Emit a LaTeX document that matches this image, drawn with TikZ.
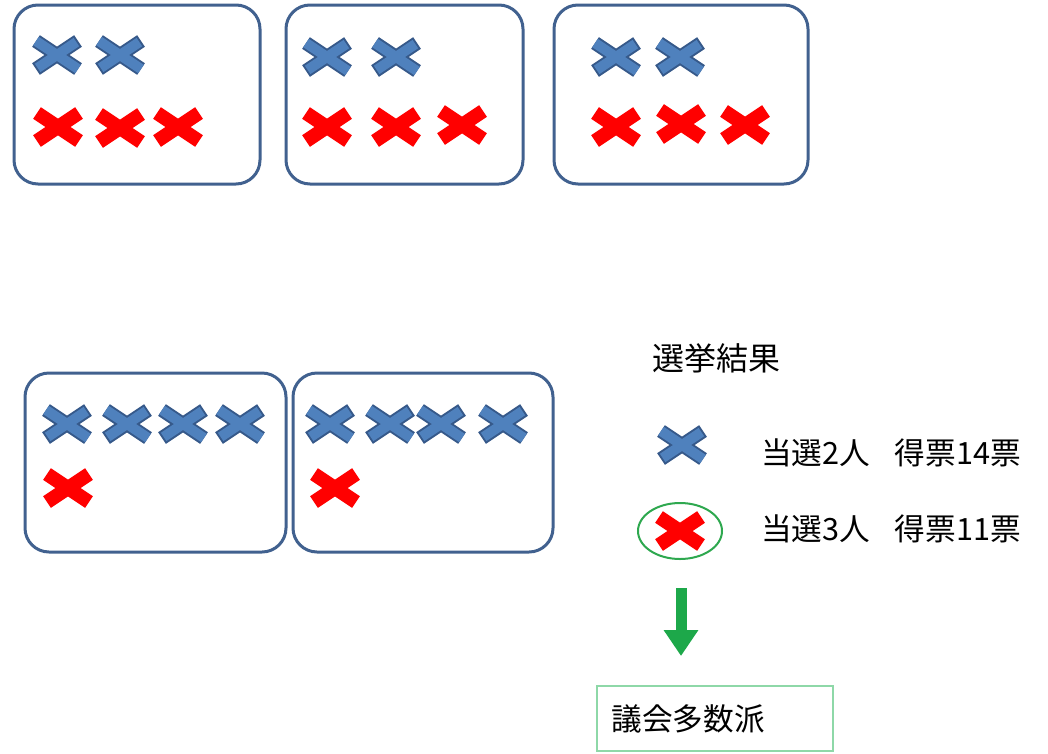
\documentclass[tikz,border=0pt]{standalone}
\usepackage{fontspec}
\setmainfont{Noto Sans CJK JP}
\usetikzlibrary{positioning}
\usetikzlibrary{arrows.meta}
\usetikzlibrary{shapes.geometric}

\definecolor{boxline}{HTML}{41618F}
\definecolor{voteblue}{HTML}{4F81BD}
\definecolor{voteedge}{HTML}{36598A}
\definecolor{arrowgreen}{HTML}{1DA84A}
\definecolor{ringgreen}{HTML}{2EA84F}
\definecolor{resultline}{HTML}{8ED8A8}

\begin{document}
\begin{tikzpicture}[x=0.75pt,y=-0.75pt,
	ballot box/.style={draw=boxline,line width=2.25pt,rounded corners=18pt,minimum height=134.25pt},
	blue vote/.pic={
		\draw[line width=10.5pt,voteedge] (-21,-14) -- (21,14) (-21,14) -- (21,-14);
		\draw[line width=7.5pt,voteblue,shorten <=1.5pt,shorten >=1.5pt] (-21,-14) -- (21,14) (-21,14) -- (21,-14);
	},
	red vote/.pic={
		\draw[line width=10.5pt,red] (-21,-14) -- (21,14) (-21,14) -- (21,-14);
	},
	legend text/.style={font=\fontsize{23pt}{27pt}\selectfont,anchor=west,inner sep=0pt},
	big arrow/.style={arrowgreen,line width=8.25pt,-{Triangle[width=24.75pt,length=19.5pt]}}]

	\useasboundingbox (0,0) rectangle (1048,753);

	% districts, upper row
	\node[ballot box,minimum width=184.5pt] (d1) at (137,94.5) {};
	\node[ballot box,minimum width=177.75pt] (d2) at (404.5,94.5) {};
	\node[ballot box,minimum width=190.5pt] (d3) at (681,94.5) {};
	% districts, lower row
	\node[ballot box,minimum width=195.75pt] (d4) at (155.5,462.5) {};
	\node[ballot box,minimum width=195pt] (d5) at (423,462.5) {};

	\pic at (57,55) {blue vote};
	\pic at (120,55) {blue vote};
	\pic at (58,127) {red vote};
	\pic at (120,128) {red vote};
	\pic at (178,127) {red vote};

	\pic at (327,57) {blue vote};
	\pic at (396,57) {blue vote};
	\pic at (327,127) {red vote};
	\pic at (396,127) {red vote};
	\pic at (462,125) {red vote};

	\pic at (616,57) {blue vote};
	\pic at (680,57) {blue vote};
	\pic at (616,127) {red vote};
	\pic at (681,124) {red vote};
	\pic at (745,125) {red vote};

	\pic at (67,424) {blue vote};
	\pic at (127,424) {blue vote};
	\pic at (183,424) {blue vote};
	\pic at (240,424) {blue vote};
	\pic at (68,488) {red vote};

	\pic at (330,424) {blue vote};
	\pic at (390,424) {blue vote};
	\pic at (441,424) {blue vote};
	\pic at (503,424) {blue vote};
	\pic at (335,488) {red vote};

	% legend
	\node[font=\fontsize{24pt}{28pt}\selectfont,inner sep=0pt] (title) at (716,358) {選挙結果};
	\pic at (682,445) {blue vote};
	\node[legend text] (bluetxt) at (761,453) {当選2人\hspace{0.8em}得票14票};
	\node[draw=ringgreen,line width=1.5pt,ellipse,minimum width=63pt,minimum height=42pt] (ring) at (680,531) {};
	\pic at (ring) {red vote};
	\node[legend text] (redtxt) at (761,529) {当選3人\hspace{0.8em}得票11票};

	\coordinate (arrtop) at (681,588);
	\coordinate (arrtip) at (681,656);
	\draw[big arrow] (arrtop) -- (arrtip);

	\node[draw=resultline,line width=1.2pt,minimum width=177pt,minimum height=48.75pt,text width=155.25pt,align=left,inner xsep=10.5pt,font=\fontsize{23pt}{27pt}\selectfont] (result) at (715,718.5) {議会多数派};
\end{tikzpicture}
\end{document}
